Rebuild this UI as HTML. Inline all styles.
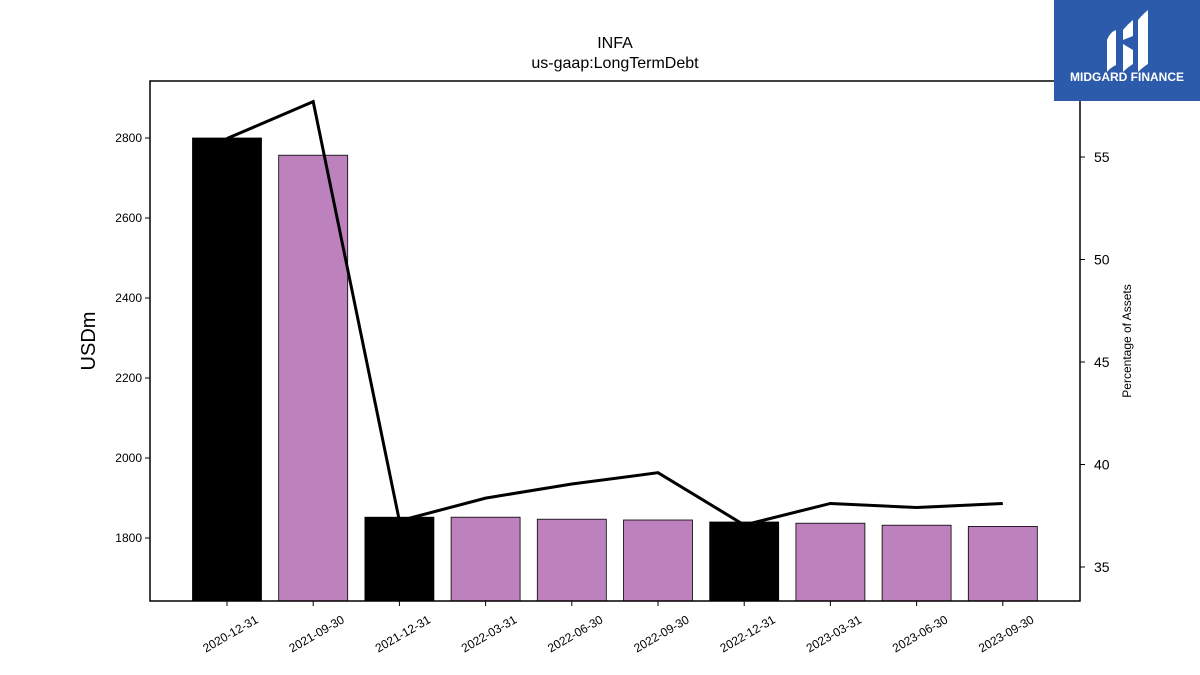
<!DOCTYPE html>
<html><head><meta charset="utf-8"><style>
body{margin:0;background:#fff;}
svg{display:block;font-family:"Liberation Sans","DejaVu Sans",sans-serif;}
</style></head><body>
<svg id="chart" width="1200" height="675" xmlns="http://www.w3.org/2000/svg">
<text x="615" y="48" text-anchor="middle" font-size="16">INFA</text>
<text x="615" y="68" text-anchor="middle" font-size="16">us-gaap:LongTermDebt</text>
<text transform="translate(95,341) rotate(-90)" text-anchor="middle" font-size="20">USDm</text>
<text transform="translate(1131,341) rotate(-90)" text-anchor="middle" font-size="12">Percentage of Assets</text>
<g id="bars"></g><g id="line"></g><g id="axes"></g>
<rect x="150" y="81" width="930" height="520" fill="none" stroke="#000" stroke-width="1.5"/>
<g>
<rect x="1054" y="0" width="146" height="101" fill="#2d5bab"/>
<path d="M1107 40 Q1110 32 1116 30 L1116 65 Q1110 68 1107 72 Z" fill="#fff"/>
<path d="M1123 30 Q1128 24 1133 20 L1133 36 Q1128 38 1123 40 Z M1123 44 L1133 50 L1133 64 Q1128 67 1123 72 Z" fill="#fff"/>
<path d="M1138 20 Q1143 14 1148 10 L1148 64 Q1143 67 1138 72 Z" fill="#fff"/>
<text x="1127" y="81" text-anchor="middle" font-size="12" font-weight="bold" fill="#fff">MIDGARD FINANCE</text>
</g>
</svg>
<script>
const categories=["2020-12-31","2021-09-30","2021-12-31","2022-03-31","2022-06-30","2022-09-30","2022-12-31","2023-03-31","2023-06-30","2023-09-30"];
const debtValues=[2800,2757,1852,1852,1847,1845,1840,1837,1832,1829];
const pctValues=[55.9,57.7,37.25,38.36,39.05,39.6,37.05,38.1,37.9,38.1];
const fyFlags=[1,0,1,0,0,0,1,0,0,0];
const leftTicks=[1800,2000,2200,2400,2600,2800];
const rightTicks=[35,40,45,50,55];
const NS="http://www.w3.org/2000/svg";
const yL=v=>538-(v-1800)*0.4;
const yR=v=>567-(v-35)*20.5;
const xC=i=>227+i*86.2;
function mk(t,a,p){const e=document.createElementNS(NS,t);for(const k in a)e.setAttribute(k,a[k]);p.appendChild(e);return e;}
const bars=document.getElementById('bars'),line=document.getElementById('line'),axes=document.getElementById('axes');
debtValues.forEach((v,i)=>{
 const r=mk('rect',{x:xC(i)-34.5,y:yL(v),width:69,height:601-yL(v),fill:fyFlags[i]?'#000':'#bd82bd',stroke:'#000','stroke-width':0.8},bars);
 
 
});
const pl=mk('polyline',{points:pctValues.map((v,i)=>xC(i)+','+yR(v)).join(' '),fill:'none',stroke:'#000','stroke-width':3},line);


leftTicks.forEach(t=>{
 mk('line',{x1:145,x2:150,y1:yL(t),y2:yL(t),stroke:'#000'},axes);
 const tx=mk('text',{x:142,y:yL(t)+4,'text-anchor':'end','font-size':12},axes);tx.textContent=t;
 
 
});
rightTicks.forEach(t=>{
 mk('line',{x1:1080,x2:1085,y1:yR(t),y2:yR(t),stroke:'#000'},axes);
 const tx=mk('text',{x:1094,y:yR(t)+5,'font-size':14},axes);tx.textContent=t;
 
 
});
categories.forEach((c,i)=>{
 const x=xC(i);
 mk('line',{x1:x,x2:x,y1:601,y2:606,stroke:'#000'},axes);
 const tx=mk('text',{transform:`translate(${x+32},${622}) rotate(-30)`,'text-anchor':'end','font-size':12},axes);tx.textContent=c;
 
 
});
</script>
</body></html>
